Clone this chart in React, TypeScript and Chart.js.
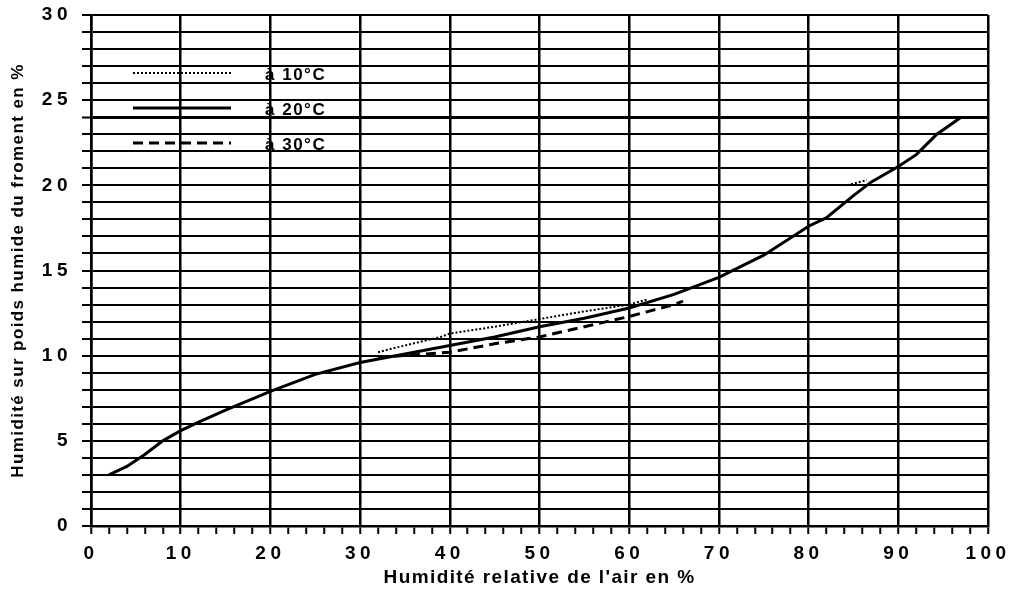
import React, { useEffect, useRef } from 'react';
import { Chart, registerables } from 'chart.js';

Chart.register(...registerables);

const xTitle = "Humidité relative de l'air en %";
const yTitle = 'Humidité sur poids humide du froment en %';
const seriesLabels = ['à 10°C', 'à 20°C', 'à 30°C'];

// 10°C (dotted)
const rh10: number[] = [32, 35, 39, 40, 45, 50, 55, 60, 62, 70, 84.3, 86.5];
const wc10: (number | null)[] = [10.2, 10.6, 11.1, 11.3, 11.7, 12.15, 12.6, 13.0, 13.3, null, 20.0, 20.3];

// 20°C (solid)
const rh20: number[] = [2, 4, 6, 8, 10, 12, 15, 20, 25, 30, 35, 40, 45, 50, 55, 60, 65, 70, 75, 80, 82, 85, 87, 90, 92, 94.3, 97];
const wc20: number[] = [3, 3.5, 4.2, 5, 5.6, 6.1, 6.8, 7.9, 8.9, 9.6, 10.1, 10.6, 11.1, 11.7, 12.2, 12.8, 13.6, 14.6, 15.9, 17.6, 18.1, 19.4, 20.2, 21.1, 21.8, 23, 24];

// 30°C (dashed)
const rh30: number[] = [32, 36, 40, 45, 50, 55, 60, 65, 66];
const wc30: number[] = [9.9, 10.05, 10.2, 10.7, 11.1, 11.7, 12.3, 13.0, 13.2];

const xTickLabels = ['0', '10', '20', '30', '40', '50', '60', '70', '80', '90', '100'];
const yTickLabels = ['0', '5', '10', '15', '20', '25', '30'];

const FONT = "'Liberation Sans', Arial, Helvetica, sans-serif";

const toPoints = (xs: number[], ys: (number | null)[]) => xs.map((x, i) => ({ x, y: ys[i] }));

const spacingPlugin = {
  id: 'spacing',
  beforeDraw(chart: any) {
    chart.ctx.letterSpacing = '1.4px';
  },
  afterDatasetsDraw(chart: any) {
    chart.ctx.letterSpacing = '4.5px';
  },
  afterDraw(chart: any) {
    const ctx = chart.ctx;
    const area = chart.chartArea;
    ctx.save();
    ctx.letterSpacing = '1.5px';
    const x0 = area.left + 42;
    const x1 = area.left + 140;
    const rows = [73, 108, 143];
    chart.data.datasets.forEach((ds: any, i: number) => {
      const y = rows[i];
      ctx.beginPath();
      ctx.strokeStyle = '#000';
      ctx.lineWidth = ds.borderWidth;
      ctx.setLineDash(ds.borderDash || []);
      ctx.moveTo(x0, y);
      ctx.lineTo(x1, y);
      ctx.stroke();
      ctx.setLineDash([]);
      ctx.fillStyle = '#000';
      ctx.font = `bold 17px ${FONT}`;
      ctx.textBaseline = 'middle';
      ctx.textAlign = 'left';
      ctx.fillText(ds.label, area.left + 174, y + 2);
    });
    ctx.restore();
    ctx.letterSpacing = '0px';
  },
};

export default function App() {
  const ref = useRef<HTMLCanvasElement | null>(null);

  useEffect(() => {
    if (!ref.current) return;
    const chart = new Chart(ref.current, {
      type: 'line',
      data: {
        datasets: [
          {
            label: seriesLabels[0],
            data: toPoints(rh10, wc10),
            borderColor: '#000',
            borderWidth: 2,
            borderDash: [2, 2],
            pointRadius: 0,
            spanGaps: false,
            fill: false,
          },
          {
            label: seriesLabels[1],
            data: toPoints(rh20, wc20),
            borderColor: '#000',
            borderWidth: 3,
            pointRadius: 0,
            fill: false,
          },
          {
            label: seriesLabels[2],
            data: toPoints(rh30, wc30),
            borderColor: '#000',
            borderWidth: 3,
            borderDash: [10, 6],
            pointRadius: 0,
            fill: false,
          },
        ],
      },
      options: {
        responsive: false,
        animation: false,
        devicePixelRatio: 1,
        layout: { padding: { left: 0, right: 26, top: 15, bottom: 0 } },
        plugins: {
          legend: { display: false },
          tooltip: { enabled: false },
        },
        scales: {
          x: {
            type: 'linear',
            min: 0,
            max: 100,
            afterFit: (s: any) => {
              s.height = 76;
              s.paddingLeft = 0;
              s.paddingRight = 0;
            },
            border: { display: true, color: '#000', width: 2.5 },
            grid: {
              color: (c: any) => (c.tick && c.tick.value % 10 === 0 ? '#000' : 'rgba(0,0,0,0)'),
              lineWidth: 2.5,
              tickColor: '#000',
              tickWidth: 2,
              tickLength: 8,
              drawTicks: true,
            },
            ticks: {
              stepSize: 2,
              autoSkip: false,
              maxRotation: 0,
              padding: 8,
              z: 1,
              color: '#000',
              font: { family: FONT, size: 19, weight: 'bold' },
              callback: (v: any) => {
                const s = String(v);
                return xTickLabels.includes(s) ? s : '';
              },
            },
            title: {
              display: true,
              text: xTitle,
              color: '#000',
              font: { family: FONT, size: 19, weight: 'bold' },
              padding: { top: 0, bottom: 13 },
            },
          },
          y: {
            type: 'linear',
            min: 0,
            max: 30,
            afterFit: (s: any) => {
              s.width = 91;
              s.paddingTop = 0;
              s.paddingBottom = 0;
            },
            border: { display: true, color: '#000', width: 2.5 },
            grid: {
              color: '#000',
              lineWidth: (c: any) => (c.tick && c.tick.value === 24 ? 3 : 2),
              tickColor: '#000',
              tickWidth: 2,
              tickLength: 9,
              drawTicks: true,
            },
            ticks: {
              stepSize: 1,
              autoSkip: false,
              padding: 10,
              z: 1,
              color: '#000',
              font: { family: FONT, size: 19, weight: 'bold' },
              callback: (v: any) => {
                const s = String(v);
                return yTickLabels.includes(s) ? s : '';
              },
            },
            title: {
              display: true,
              text: yTitle,
              color: '#000',
              font: { family: FONT, size: 17, weight: 'bold' },
              padding: { top: 8, bottom: 0 },
            },
          },
        },
      },
      plugins: [spacingPlugin],
    });
    return () => chart.destroy();
  }, []);

  return (
    <div style={{ position: 'fixed', left: 0, top: 0, width: 1014, height: 602, background: '#fff' }}>
      <canvas ref={ref} width={1014} height={602} />
    </div>
  );
}
